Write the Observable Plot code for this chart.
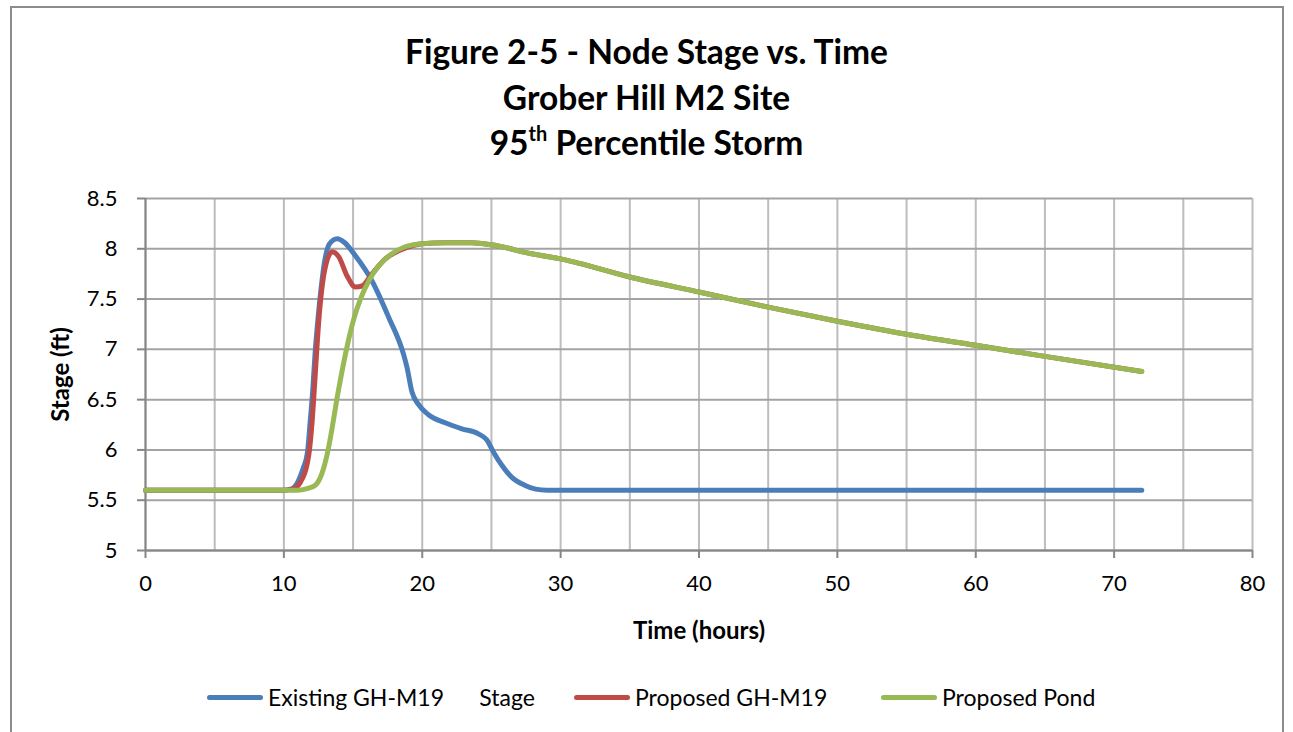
<!DOCTYPE html>
<html>
<head>
<meta charset="utf-8">
<script src="https://cdn.jsdelivr.net/npm/d3@7"></script>
<script src="https://cdn.jsdelivr.net/npm/@observablehq/plot@0.6"></script>
<style>
  body { margin: 0; background: #fff; font-family: Lato, "Open Sans", sans-serif; }
  #wrap { position: relative; width: 1293px; height: 732px; overflow: hidden; background: #fff; }
  #border { position: absolute; left: 10px; top: 6px; width: 1274px; height: 800px; border: 2px solid #8c8c8c; box-sizing: border-box; }
  #title { position: absolute; top: 29px; left: 0; width: 1293px; text-align: center; font-weight: bold; font-size: 33.5px; line-height: 45.5px; color: #000; }
  #title sup { font-size: 20px; line-height: 0; vertical-align: 14px; }
  #chart { position: absolute; left: 0; top: 180px; }
  .leg { position: absolute; top: 684px; height: 26px; display: flex; align-items: center; font-size: 23px; color: #000; white-space: pre; }
  .sw { width: 56px; height: 5px; border-radius: 3px; margin-right: 5px; }
</style>
</head>
<body>
<div id="wrap">
  <div id="border"></div>
  <div id="title">Figure 2-5 - Node Stage vs. Time<br>Grober Hill M2 Site<br>95<sup>th</sup> Percentile Storm</div>
  <div id="chart"></div>
  <div id="legend"></div>
</div>
<script>
// ---- Data ----
const seriesNames = ["Existing GH-M19      Stage", "Proposed GH-M19", "Proposed Pond"];
const seriesColors = ["#4A7EBB", "#BE4B48", "#98B954"];

const existingTime  = [0, 10, 10.5, 11, 11.4, 11.7, 11.9, 12.1, 12.25, 12.45, 12.7, 12.95, 13.3, 13.85, 14.4, 15.17, 16.37, 17.57, 18.65, 18.9, 19.25, 19.74, 20.45, 21.66, 22.86, 24.06, 24.66, 25.14, 25.74, 26.46, 27.4, 28.2, 29, 40, 50, 60, 72];
const existingStage = [5.6, 5.6, 5.61, 5.68, 5.82, 5.97, 6.28, 6.62, 6.95, 7.28, 7.62, 7.88, 8.05, 8.1, 8.06, 7.93, 7.68, 7.32, 6.95, 6.82, 6.58, 6.45, 6.35, 6.27, 6.21, 6.16, 6.1, 5.98, 5.85, 5.73, 5.65, 5.61, 5.6, 5.6, 5.6, 5.6, 5.6];

const proposedTime  = [0, 10, 10.6, 11.2, 11.8, 12.04, 12.28, 12.52, 12.76, 13.05, 13.49, 13.97, 14.57, 15.17, 15.65, 16.37, 17.33, 18.3, 19.25, 19.97, 21.66, 23.58, 25, 27.9, 30, 35, 40, 45, 50, 55, 60, 65, 72];
const proposedStage = [5.6, 5.6, 5.61, 5.68, 5.95, 6.28, 6.78, 7.28, 7.62, 7.85, 7.97, 7.92, 7.73, 7.62, 7.63, 7.75, 7.9, 7.98, 8.03, 8.05, 8.06, 8.06, 8.04, 7.95, 7.9, 7.72, 7.57, 7.42, 7.28, 7.15, 7.04, 6.93, 6.78];

const pondTime  = [0, 10, 11, 11.8, 12.28, 12.76, 13.12, 13.49, 13.85, 14.2, 14.57, 15.05, 15.53, 16.13, 16.85, 17.8, 18.77, 19.97, 21.66, 23.58, 25, 27.9, 30, 35, 40, 45, 50, 55, 60, 65, 72];
const pondStage = [5.6, 5.6, 5.6, 5.62, 5.65, 5.77, 5.95, 6.22, 6.52, 6.78, 7.03, 7.3, 7.5, 7.68, 7.83, 7.95, 8.02, 8.05, 8.06, 8.06, 8.04, 7.95, 7.9, 7.72, 7.57, 7.42, 7.28, 7.15, 7.04, 6.93, 6.78];

const xTicks = [0, 10, 20, 30, 40, 50, 60, 70, 80];
const xGrid = [0, 5, 10, 15, 20, 25, 30, 35, 40, 45, 50, 55, 60, 65, 70, 75, 80];
const yTicks = [5, 5.5, 6, 6.5, 7, 7.5, 8, 8.5];

// ---- Build table ----
const times = [existingTime, proposedTime, pondTime];
const stages = [existingStage, proposedStage, pondStage];
const rows = [];
seriesNames.forEach((name, i) => {
  times[i].forEach((t, j) => rows.push({series: name, time: t, stage: stages[i][j]}));
});

const chart = Plot.plot({
  width: 1293,
  height: 465,
  marginLeft: 145,
  marginRight: 41,
  marginTop: 18,
  marginBottom: 95,
  style: {fontFamily: "Lato, 'Open Sans', sans-serif", fontSize: "22px", color: "#000", background: "transparent"},
  x: {domain: [0, 80]},
  y: {domain: [5, 8.5]},
  color: {domain: seriesNames, range: seriesColors},
  marks: [
    Plot.gridX(xGrid, {stroke: "#bdbdbd", strokeOpacity: 1, strokeWidth: 2}),
    Plot.gridY(yTicks, {stroke: "#a3a3a3", strokeOpacity: 1, strokeWidth: 2}),
    Plot.axisX(xTicks, {tickSize: 8, tickPadding: 17, stroke: "#868686", strokeWidth: 2, fill: "#000",
      tickFormat: d => String(d), label: "Time (hours)", labelAnchor: "center", labelOffset: 88, labelArrow: "none"}),
    Plot.axisY(yTicks, {tickSize: 8, tickPadding: 20, stroke: "#868686", strokeWidth: 2, fill: "#000",
      tickFormat: d => String(+d.toFixed(1)), label: "Stage (ft)", labelAnchor: "center", labelOffset: 94, labelArrow: "none"}),
    Plot.ruleX([0], {stroke: "#868686", strokeWidth: 2}),
    Plot.ruleY([5], {stroke: "#868686", strokeWidth: 2}),
    Plot.line(rows, {x: "time", y: "stage", z: "series", stroke: "series", strokeWidth: 5, curve: "monotone-x", strokeLinecap: "round", strokeLinejoin: "round"})
  ]
});
chart.querySelectorAll('g[aria-label="x-axis label"] text, g[aria-label="y-axis label"] text').forEach(t => { t.setAttribute("font-weight", "bold"); t.setAttribute("font-size", "24px"); });
document.getElementById("chart").appendChild(chart);

// ---- Legend ----
const legendLeft = [207, 574, 881];
const legend = document.getElementById("legend");
seriesNames.forEach((name, i) => {
  const item = document.createElement("div");
  item.className = "leg";
  item.style.left = legendLeft[i] + "px";
  const sw = document.createElement("div");
  sw.className = "sw";
  sw.style.background = seriesColors[i];
  const tx = document.createElement("span");
  tx.textContent = name;
  item.appendChild(sw);
  item.appendChild(tx);
  legend.appendChild(item);
});
</script>
</body>
</html>
